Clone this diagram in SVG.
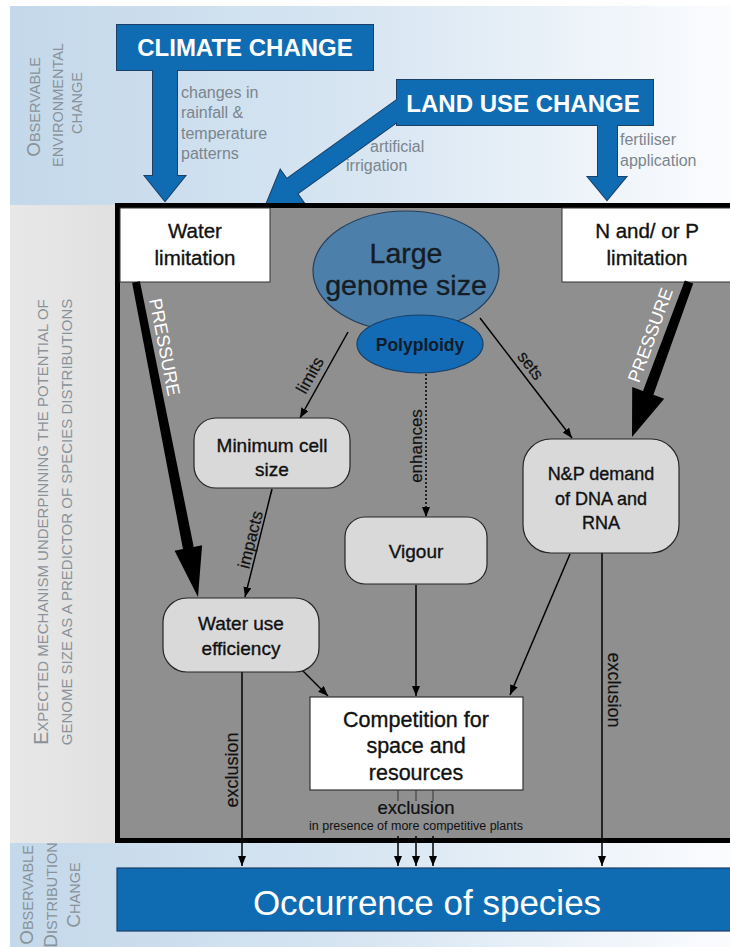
<svg xmlns="http://www.w3.org/2000/svg" width="730" height="947" viewBox="0 0 730 947">
<defs>
<linearGradient id="gBand" x1="0" y1="0" x2="1" y2="0">
<stop offset="0" stop-color="#c3d8ea"/>
<stop offset="0.5" stop-color="#d8e6f2"/>
<stop offset="1" stop-color="#fbfcfe"/>
</linearGradient>
<linearGradient id="gSide" x1="0" y1="0" x2="1" y2="0">
<stop offset="0" stop-color="#e8e8e8"/>
<stop offset="1" stop-color="#e0e0e0"/>
</linearGradient>
<marker id="ah" viewBox="0 0 10 8" refX="10" refY="4" markerWidth="10" markerHeight="8" markerUnits="userSpaceOnUse" orient="auto">
<path d="M0,0 L10,4 L0,8 z" fill="#000"/>
</marker>
<style>
text{font-family:"Liberation Sans",Arial,Helvetica,sans-serif;}
.side{fill:#8a9299;font-size:14.5px;text-anchor:middle;}
.big{font-size:19px;}
.note{fill:#7b858e;font-size:16px;}
.blue{fill:#0f6cb3;}
.blueS{fill:none;stroke:#1b3f66;stroke-width:2;}
.btxt{fill:#fff;font-weight:bold;font-size:24px;text-anchor:middle;}
.node{fill:#d9d9d9;stroke:#262626;stroke-width:1.2;}
.ntxt{fill:#111;stroke:#111;stroke-width:0.35;font-size:19px;text-anchor:middle;}
.lbl{fill:#111;stroke:#111;stroke-width:0.2;font-size:17px;text-anchor:middle;}
.conn{stroke:#000;stroke-width:1.5;fill:none;}
.press{fill:#000;}
.ptxt{fill:#fff;font-size:18px;text-anchor:middle;}
</style>
</defs>

<!-- backgrounds -->
<rect x="10" y="6" width="720" height="199" fill="url(#gBand)"/>
<rect x="10" y="205" width="110" height="638" fill="url(#gSide)"/>
<rect x="10" y="843" width="720" height="104" fill="url(#gBand)"/>

<!-- sidebar labels -->
<g id="label-env">
<text class="side" transform="translate(40,107) rotate(-90)"><tspan class="big">O</tspan>BSERVABLE</text>
<text class="side" transform="translate(63,105) rotate(-90)">ENVIRONMENTAL</text>
<text class="side" transform="translate(82,103) rotate(-90)">CHANGE</text>
</g>
<g id="label-mech">
<text class="side" style="font-size:15px" transform="translate(48,522) rotate(-90)"><tspan style="font-size:19.5px">E</tspan>XPECTED MECHANISM UNDERPINNING THE POTENTIAL OF</text>
<text class="side" style="font-size:15px" transform="translate(72,522) rotate(-90)">GENOME SIZE AS A PREDICTOR OF SPECIES DISTRIBUTIONS</text>
</g>
<g id="label-dist">
<text class="side" transform="translate(33,895) rotate(-90)"><tspan class="big">O</tspan>BSERVABLE</text>
<text class="side" transform="translate(57,895) rotate(-90)"><tspan class="big">D</tspan>ISTRIBUTION</text>
<text class="side" transform="translate(80,895) rotate(-90)"><tspan class="big">C</tspan>HANGE</text>
</g>

<!-- climate change -->
<g id="climate-change">
<path class="blueS" d="M117,25 H373 V70 H177 V176 H185 L165,201 L145,176 H153 V70 H117 Z"/>
<path class="blue" d="M117,25 H373 V70 H177 V176 H185 L165,201 L145,176 H153 V70 H117 Z"/>
<text class="btxt" x="245" y="56">CLIMATE CHANGE</text>
<text class="note" x="181" y="98">changes in</text>
<text class="note" x="181" y="118">rainfall &amp;</text>
<text class="note" x="181" y="139">temperature</text>
<text class="note" x="181" y="159">patterns</text>
</g>

<!-- land use change -->
<g id="land-use-change">
<path class="blueS" transform="translate(266,205) rotate(144.3)" d="M0,0 L-32,-20 L-32,-9 L-175,-9 L-175,9 L-32,9 L-32,20 Z"/>
<path class="blueS" d="M397,80 H653 V125 H617 V177 H626 L607,200 L588,177 H598 V125 H397 Z"/>
<path class="blue" transform="translate(266,205) rotate(144.3)" d="M0,0 L-32,-20 L-32,-9 L-175,-9 L-175,9 L-32,9 L-32,20 Z"/>
<path class="blue" d="M397,80 H653 V125 H617 V177 H626 L607,200 L588,177 H598 V125 H397 Z"/>
<text class="btxt" x="523" y="112">LAND USE CHANGE</text>
<text class="note" x="370" y="152">artificial</text>
<text class="note" x="346" y="171">irrigation</text>
<text class="note" x="620" y="145">fertiliser</text>
<text class="note" x="620" y="166">application</text>
</g>

<!-- main mechanism box -->
<rect id="mechanism-frame" x="117.5" y="205.5" width="640" height="635" fill="#8f8f8f" stroke="#000" stroke-width="5"/>

<g id="water-limitation">
<rect x="120" y="208" width="150" height="74" fill="#fff" stroke="#333" stroke-width="1"/>
<text class="ntxt" style="font-size:20.5px" x="195" y="238">Water</text>
<text class="ntxt" style="font-size:20.5px" x="195" y="265">limitation</text>
</g>

<g id="np-limitation">
<rect x="562" y="208" width="175" height="74" fill="#fff" stroke="#333" stroke-width="1"/>
<text class="ntxt" style="font-size:20.5px" x="647" y="238">N and/ or P</text>
<text class="ntxt" style="font-size:20.5px" x="647" y="265">limitation</text>
</g>

<!-- connectors -->
<g id="connectors">
<polygon class="press" points="132.1,282.8 139.9,281.2 193.75,546.9 202.1,545.25 198,597 174.6,550.65 182.95,549"/>
<text class="ptxt" transform="translate(165,347) rotate(78.9)" y="6.5">PRESSURE</text>
<polygon class="press" points="684.8,280.4 693.2,283.6 653.4,394.8 664.2,398.8 632,437 632.2,387 643,391"/>
<text class="ptxt" transform="translate(650,335) rotate(-69.8)" y="6.5">PRESSURE</text>

<line class="conn" x1="348" y1="332" x2="300" y2="418" marker-end="url(#ah)"/>
<text class="lbl" transform="translate(315,378) rotate(-61)">limits</text>
<line class="conn" x1="480" y1="318" x2="572" y2="438" marker-end="url(#ah)"/>
<text class="lbl" transform="translate(526,369) rotate(52.5)">sets</text>
<line class="conn" x1="426" y1="374" x2="426" y2="517" stroke-dasharray="2,2" marker-end="url(#ah)"/>
<text class="lbl" transform="translate(422,446) rotate(-90)">enhances</text>
<line class="conn" x1="272" y1="489" x2="245" y2="597" marker-end="url(#ah)"/>
<text class="lbl" transform="translate(256,541) rotate(-76)">impacts</text>

<line class="conn" x1="302" y1="670" x2="328" y2="696" marker-end="url(#ah)"/>
<line class="conn" x1="416" y1="585" x2="416" y2="696" marker-end="url(#ah)"/>
<line class="conn" x1="570" y1="554" x2="510" y2="695" marker-end="url(#ah)"/>

<line class="conn" x1="242" y1="672" x2="242" y2="866" marker-end="url(#ah)"/>
<text class="lbl" style="font-size:18px" transform="translate(238,770) rotate(-90)">exclusion</text>
<line class="conn" x1="602" y1="553" x2="602" y2="866" marker-end="url(#ah)"/>
<text class="lbl" style="font-size:18px" transform="translate(608,690) rotate(90)">exclusion</text>

<g stroke="#4a4a4a" stroke-width="1.3">
<line x1="398" y1="790" x2="398" y2="801"/>
<line x1="416" y1="790" x2="416" y2="801"/>
<line x1="433" y1="790" x2="433" y2="801"/>
</g>
<line class="conn" x1="398" y1="836" x2="398" y2="866" marker-end="url(#ah)"/>
<line class="conn" x1="416" y1="836" x2="416" y2="866" marker-end="url(#ah)"/>
<line class="conn" x1="433" y1="836" x2="433" y2="866" marker-end="url(#ah)"/>
<text class="lbl" style="font-size:18.5px" x="416" y="814">exclusion</text>
<text class="lbl" style="font-size:12.5px;stroke-width:0" x="416" y="830">in presence of more competitive plants</text>
</g>

<!-- nodes -->
<g id="large-genome-size">
<ellipse cx="406" cy="271" rx="93" ry="60" fill="#4d7fab" stroke="#243f5c" stroke-width="1.2"/>
<text class="ntxt" style="font-size:28.5px;fill:#141c24;stroke:#141c24" x="406" y="263">Large</text>
<text class="ntxt" style="font-size:28.5px;fill:#141c24;stroke:#141c24" x="406" y="295">genome size</text>
</g>
<g id="polyploidy">
<ellipse cx="420" cy="344" rx="63" ry="29" fill="#146bb5" stroke="#173f66" stroke-width="1.2"/>
<text class="ntxt" style="font-size:17.5px;font-weight:bold;fill:#0d1b2c;stroke-width:0" x="420" y="351">Polyploidy</text>
</g>
<g id="minimum-cell-size">
<rect class="node" x="194" y="418" width="156" height="70" rx="22"/>
<text class="ntxt" x="272" y="452">Minimum cell</text>
<text class="ntxt" x="272" y="476">size</text>
</g>
<g id="np-demand">
<rect class="node" x="523" y="439" width="156" height="114" rx="28"/>
<text class="ntxt" style="font-size:18px" x="601" y="480">N&amp;P demand</text>
<text class="ntxt" style="font-size:18px" x="601" y="505">of DNA and</text>
<text class="ntxt" style="font-size:18px" x="601" y="529">RNA</text>
</g>
<g id="vigour">
<rect class="node" x="345" y="517" width="142" height="67" rx="20"/>
<text class="ntxt" x="416" y="558">Vigour</text>
</g>
<g id="water-use-efficiency">
<rect class="node" x="163" y="598" width="156" height="74" rx="24"/>
<text class="ntxt" x="241" y="630">Water use</text>
<text class="ntxt" x="241" y="655">efficiency</text>
</g>
<g id="competition">
<rect x="310" y="697" width="213" height="93" fill="#fff" stroke="#333" stroke-width="1.2"/>
<text class="ntxt" style="font-size:21.5px" x="416" y="727">Competition for</text>
<text class="ntxt" style="font-size:21.5px" x="416" y="753">space and</text>
<text class="ntxt" style="font-size:21.5px" x="416" y="780">resources</text>
</g>

<g id="occurrence-of-species">
<rect x="117" y="868" width="620" height="63" fill="#0f6cb3" stroke="#1b3f66" stroke-width="1.2"/>
<text x="427" y="915" style="fill:#fff;font-size:35px;text-anchor:middle">Occurrence of species</text>
</g>
</svg>
